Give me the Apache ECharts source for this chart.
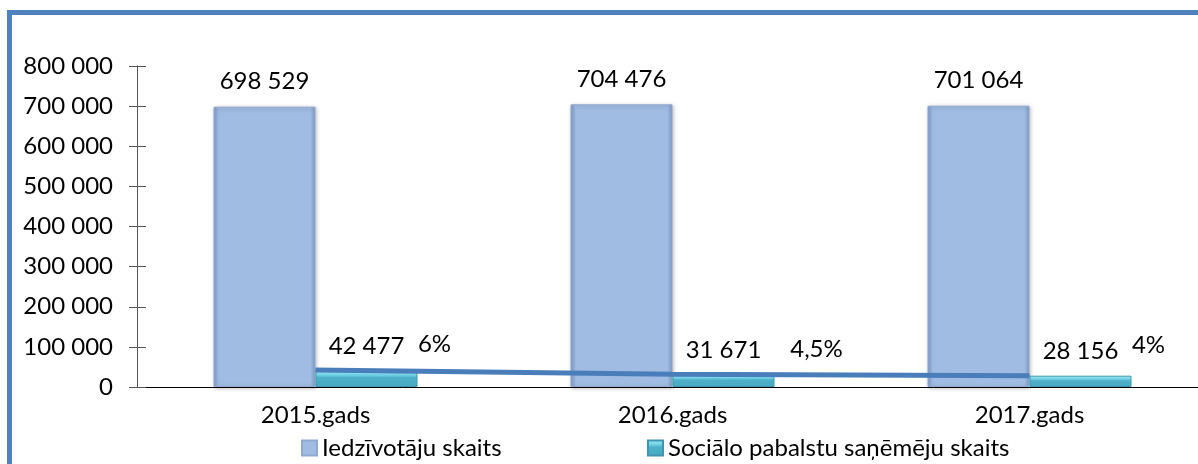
<!DOCTYPE html>
<html>
<head>
<meta charset="utf-8">
<script src="https://cdn.jsdelivr.net/npm/echarts@6/dist/echarts.min.js"></script>
<style>
	html, body { margin: 0; padding: 0; background: #fff; }
	#chart { width: 1198px; height: 464px; }
</style>
</head>
<body>
<div id="chart"></div>
<script>
var categories = ['2015.gads', '2016.gads', '2017.gads'];
var residents = [698529, 704476, 701064];
var recipients = [42477, 31671, 28156];
var shares = ['6%', '4,5%', '4%'];
var yTicks = { min: 0, max: 800000, step: 100000 };

var fontName = 'Lato, "Open Sans", sans-serif';
var fSize = 24;

// 100000 -> "100 000"
var spaced = function(v) {
	return String(v).replace(/\B(?=(\d{3})+(?!\d))/g, ' ');
};

// where the % labels sit relative to the line point
var shareShift = [[119, -26], [144, -25], [119, -30]];

var lineData = [];
for (var i = 0; i < recipients.length; i++) {
	lineData.push({
		value : recipients[i],
		label : {
			offset : shareShift[i]
		}
	});
}

var chart = echarts.init(document.getElementById('chart'));
var option = {
	animation : false,
	textStyle : {
		fontFamily : fontName
	},
	graphic : [ {
		type : 'rect',
		shape : { x : 9.5, y : 12.5, width : 1300, height : 600 },
		style : { fill : 'none', stroke : '#4F81BD', lineWidth : 5 },
		silent : true
	} ],
	legend : [ {
		data : [ 'Iedzīvotāju skaits' ],
		left : 296,
		top : 431,
		icon : 'rect',
		itemWidth : 15,
		itemHeight : 15,
		itemGap : 0,
		textStyle : { fontSize : fSize, color : '#000', fontFamily : fontName }
	}, {
		data : [ 'Sociālo pabalstu saņēmēju skaits' ],
		left : 642,
		top : 431,
		icon : 'rect',
		itemWidth : 15,
		itemHeight : 15,
		textStyle : { fontSize : fSize, color : '#000', fontFamily : fontName }
	} ],
	grid : {
		left : 137,
		width : 1071,
		top : 66,
		bottom : 77,
		containLabel : false,
		outerBoundsMode : 'none'
	},
	xAxis : [ {
		type : 'category',
		data : categories,
		axisLine : { lineStyle : { color : '#000', width : 1 } },
		axisTick : { length : 8, lineStyle : { color : '#000' } },
		axisLabel : { fontSize : fSize, color : '#000', margin : 16, fontFamily : fontName }
	}, {
		type : 'category',
		data : categories,
		position : 'bottom',
		axisLine : { show : false },
		axisTick : { inside : true, length : 8, lineStyle : { color : '#000' } },
		axisLabel : { show : false }
	} ],
	yAxis : [ {
		type : 'value',
		min : yTicks.min,
		max : yTicks.max,
		interval : yTicks.step,
		splitLine : { show : false },
		axisLine : { show : true, lineStyle : { color : '#555' } },
		axisTick : { show : true, length : 8, lineStyle : { color : '#555' } },
		axisLabel : {
			fontSize : fSize,
			color : '#000',
			margin : 24,
			fontFamily : fontName,
			formatter : function(v) { return spaced(v); }
		}
	}, {
		type : 'value',
		min : yTicks.min,
		max : yTicks.max,
		interval : yTicks.step,
		position : 'left',
		splitLine : { show : false },
		axisLine : { show : false },
		axisTick : { show : true, inside : true, length : 9, lineStyle : { color : '#555' } },
		axisLabel : { show : false }
	} ],
	series : [ {
		name : 'Iedzīvotāju skaits',
		type : 'bar',
		data : residents,
		barWidth : 102,
		barGap : '0%',
		itemStyle : {
			color : {
				type : 'linear', x : 0, y : 0, x2 : 1, y2 : 0,
				colorStops : [
					{ offset : 0, color : '#7E9BC6' },
					{ offset : 0.05, color : '#A0BCE3' },
					{ offset : 0.95, color : '#A0BCE3' },
					{ offset : 1, color : '#7E9BC6' }
				]
			},
			borderColor : '#8FA8CF',
			borderWidth : 1,
			shadowColor : 'rgba(0,0,0,0.25)',
			shadowBlur : 4,
			shadowOffsetX : 1,
			shadowOffsetY : 1
		},
		label : {
			show : true,
			position : 'top',
			distance : 13,
			fontSize : fSize,
			color : '#000',
			fontFamily : fontName,
			formatter : function(p) { return spaced(p.value); }
		}
	}, {
		name : 'Sociālo pabalstu saņēmēju skaits',
		type : 'bar',
		data : recipients,
		barWidth : 102,
		barGap : '0%',
		itemStyle : {
			color : {
				type : 'linear', x : 0, y : 0, x2 : 0, y2 : 1,
				colorStops : [
					{ offset : 0, color : '#A6EEF9' },
					{ offset : 0.3, color : '#6FD0E4' },
					{ offset : 0.45, color : '#4DB0C8' },
					{ offset : 1, color : '#48A9C2' }
				]
			},
			borderColor : '#3E97AE',
			borderWidth : 1
		},
		label : {
			show : true,
			position : 'top',
			distance : 12,
			fontSize : fSize,
			color : '#000',
			fontFamily : fontName,
			formatter : function(p) { return spaced(p.value); }
		}
	}, {
		name : 'share',
		type : 'line',
		data : lineData,
		symbol : 'circle',
		symbolSize : 1,
		z : 5,
		lineStyle : { color : '#4A7EBB', width : 5 },
		itemStyle : { color : '#4A7EBB' },
		label : {
			show : true,
			position : 'inside',
			fontSize : fSize,
			color : '#000',
			fontFamily : fontName,
			formatter : function(p) { return shares[p.dataIndex]; }
		}
	} ]
};
chart.setOption(option);
</script>
</body>
</html>
